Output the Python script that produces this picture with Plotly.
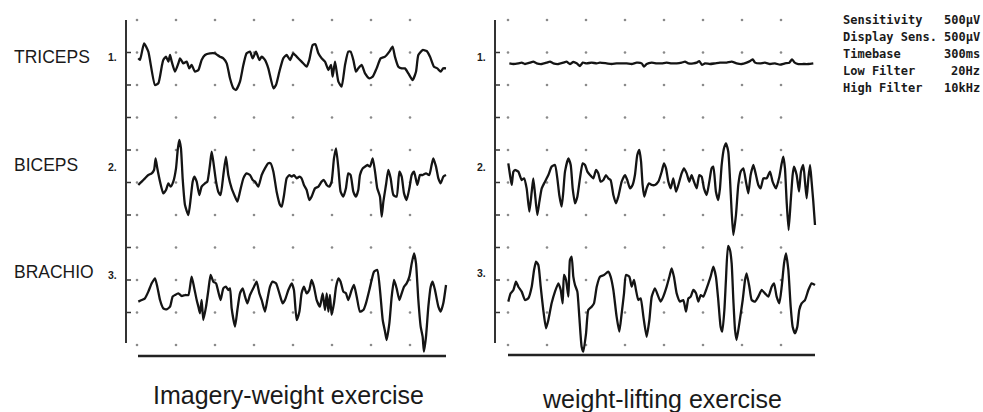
import plotly.graph_objects as go

# ---------------- DATA ----------------
# time in ms, amplitude in µV relative to each channel's baseline
channels = ["TRICEPS", "BICEPS", "BRACHIO"]
channel_numbers = ["1.", "2.", "3."]
conditions = ["Imagery-weight exercise", "weight-lifting exercise"]
setting_names = ["Sensitivity", "Display Sens.", "Timebase", "Low Filter", "High Filter"]
setting_values = ["500µV", "500µV", "300ms", "20Hz", "10kHz"]

# Imagery-weight exercise
tri_img_t = [64, 77, 108, 141, 192, 218, 244, 256, 277, 295, 308, 321, 346, 372, 385, 410, 436, 456, 474, 500,
             526, 551, 577, 615, 654, 672, 692, 718, 744, 769, 795, 815, 846, 872, 897, 923, 944, 969, 995, 1013,
             1038, 1064, 1103, 1123, 1149, 1179, 1205, 1231, 1256, 1282, 1320, 1359, 1379, 1405, 1426, 1449, 1474,
             1500, 1526, 1546, 1559, 1577, 1603, 1628, 1654, 1679, 1697, 1718, 1738, 1756, 1782, 1808, 1841, 1867,
             1897, 1928, 1962, 1995, 2020, 2038, 2064, 2090, 2115, 2141, 2174, 2200, 2218, 2251, 2282, 2308, 2338,
             2364, 2390, 2410, 2431]
tri_img_v = [110, 85, 341, 213, -300, -274, -18, 85, 136, 59, 162, 59, -95, 33, 110, 33, 59, -44, 8, -95,
             -69, 85, 162, 187, 187, 162, 136, 110, 33, -197, -351, -377, -249, 8, 187, 213, 110, 213, 85, 136,
             85, -44, -351, -300, -95, 110, 162, 85, 187, 136, 59, -18, 85, 315, 326, 187, 110, 59, -69, 8,
             -172, 59, -249, -326, 8, 213, 213, 85, -95, -44, 8, -121, -197, -172, -44, 110, 136, 213, 290, 136,
             -18, -44, -44, -121, -223, -95, 162, 238, 223, 136, -18, -44, -95, -44, -44]

bic_img_t = [64, 90, 115, 141, 167, 185, 197, 210, 231, 256, 277, 295, 313, 333, 354, 367, 379, 392, 405, 423,
             449, 467, 482, 495, 513, 533, 551, 577, 595, 615, 628, 641, 662, 679, 697, 718, 738, 756, 782, 808,
             826, 846, 872, 897, 923, 944, 962, 987, 1013, 1038, 1064, 1082, 1103, 1128, 1154, 1167, 1185, 1205,
             1226, 1244, 1261, 1282, 1303, 1320, 1338, 1359, 1379, 1397, 1423, 1449, 1474, 1492, 1513, 1533, 1551,
             1569, 1585, 1603, 1620, 1641, 1661, 1679, 1697, 1718, 1738, 1756, 1769, 1790, 1808, 1826, 1846, 1867,
             1885, 1902, 1923, 1936, 1949, 1969, 1987, 2005, 2026, 2051, 2072, 2090, 2108, 2128, 2149, 2167, 2185,
             2210, 2231, 2251, 2277, 2302, 2320, 2333, 2354, 2372, 2390, 2410, 2431]
bic_img_v = [-88, -37, 14, 65, 91, 142, 322, 168, -37, -217, -165, -63, -114, -37, 168, 450, 604, 476, 14, -396,
             -550, -294, -37, 40, -37, -242, -114, -63, -37, 219, 424, 270, -37, -191, -242, 65, 347, 65, -140, -268,
             -345, -191, 14, 91, 65, -12, -37, -114, 65, 168, 245, 245, 117, -191, -396, -422, -242, 14, 65, 40,
             65, 14, 40, 14, -88, -165, -319, -268, -140, -114, -37, -12, -88, -114, -37, 322, 476, 168, -191, -268,
             -140, 91, 65, -191, -268, -165, 65, 168, 194, 219, 194, 322, 117, -140, -268, -576, -345, -88, 142, 14,
             -242, -268, 117, 40, -217, -319, -140, 65, 117, -88, 65, 65, 91, 65, 219, 322, 194, 14, -63, 40, 65]

bra_img_t = [64, 90, 115, 141, 167, 192, 210, 231, 256, 282, 308, 328, 346, 372, 397, 423, 449, 474, 492, 513,
             526, 538, 551, 564, 585, 603, 620, 641, 662, 679, 697, 718, 738, 756, 769, 782, 808, 826, 846, 867,
             885, 903, 923, 954, 974, 995, 1013, 1038, 1056, 1077, 1097, 1123, 1149, 1174, 1192, 1218, 1244, 1261,
             1282, 1303, 1320, 1338, 1359, 1379, 1397, 1415, 1436, 1461, 1482, 1500, 1513, 1526, 1538, 1551, 1569,
             1585, 1603, 1620, 1641, 1661, 1679, 1705, 1723, 1744, 1769, 1795, 1815, 1841, 1859, 1877, 1902, 1923,
             1944, 1962, 1974, 1995, 2013, 2031, 2051, 2072, 2090, 2108, 2128, 2149, 2167, 2185, 2200, 2218, 2236,
             2251, 2261, 2277, 2295, 2313, 2328, 2346, 2372, 2390, 2410, 2431]
bra_img_v = [-133, -108, -82, 21, 149, 226, 97, -108, -236, -251, -210, -56, -31, -5, -46, -31, -31, 251, 97, -108,
             -210, -313, -108, -415, -210, 46, 277, 174, 149, 21, -108, 72, 97, 46, 72, -236, -518, -262, -5, 72,
             -56, -159, -31, 97, 174, -5, -108, -287, -108, 97, 174, 149, -5, -159, -108, 46, 149, 46, -415, -287,
             -5, 97, -5, 46, 200, 97, -108, -210, -5, -262, -5, -287, -31, -338, -159, 97, 226, 174, 21, -5,
             -108, 46, 123, -56, -287, -262, -159, 46, 200, 328, 354, 46, -415, -595, -723, -467, -56, 200, 72, -108,
             -5, 97, 149, 251, 456, 610, 456, -108, -518, -672, -903, -672, -210, 97, 174, 46, -210, -287, -159, 123]

# weight-lifting exercise
tri_lift_t = [72, 103, 141, 167, 192, 231, 256, 282, 321, 359, 385, 410, 449, 487, 513, 538, 564, 590, 615, 636,
              667, 705, 744, 769, 820, 859, 897, 936, 974, 1013, 1051, 1090, 1108, 1128, 1167, 1205, 1244, 1282,
              1320, 1359, 1397, 1423, 1449, 1487, 1513, 1533, 1554, 1577, 1615, 1654, 1692, 1744, 1782, 1820, 1859,
              1897, 1928, 1944, 1962, 2000, 2038, 2077, 2115, 2154, 2192, 2226, 2246, 2267, 2295, 2333, 2372, 2410]
tri_lift_v = [33, 23, 33, 44, 23, 44, 59, 33, 23, 44, 59, 33, 23, 44, 59, 23, 54, 33, -8, 44,
              33, 44, 33, 44, 33, 23, 33, 33, 33, 23, 44, 33, -18, 23, 44, 33, 33, 44, 33, 33,
              44, 59, 33, 33, 44, 69, 8, 33, 23, 33, 44, 44, 59, 33, 23, 44, 74, 95, 44, 33,
              44, 23, 33, 13, 33, 44, 95, 44, 23, 23, 23, 33]

bic_lift_t = [64, 77, 90, 103, 115, 141, 167, 185, 205, 226, 244, 256, 269, 287, 303, 321, 346, 372, 397, 423,
              441, 456, 474, 487, 500, 526, 544, 559, 577, 595, 615, 636, 654, 672, 692, 718, 738, 756, 774, 795,
              815, 833, 851, 872, 892, 910, 936, 962, 979, 1000, 1020, 1038, 1056, 1072, 1085, 1097, 1110, 1128,
              1146, 1167, 1192, 1218, 1244, 1261, 1277, 1295, 1313, 1333, 1354, 1372, 1397, 1415, 1436, 1456, 1474,
              1492, 1513, 1533, 1551, 1569, 1590, 1610, 1628, 1641, 1661, 1679, 1692, 1705, 1723, 1738, 1756, 1769,
              1782, 1795, 1815, 1833, 1851, 1872, 1892, 1910, 1928, 1949, 1969, 1987, 2005, 2026, 2051, 2077, 2097,
              2123, 2149, 2167, 2179, 2192, 2205, 2220, 2236, 2251, 2261, 2282, 2300, 2315, 2333, 2346, 2359, 2372,
              2385, 2397, 2410, 2423]
bic_lift_v = [245, 65, -88, 117, 142, 117, -12, 14, -140, -499, -191, 14, -217, -550, -345, -140, -37, 65, 194, 219,
              14, -242, -422, -191, 117, 322, 219, -140, -370, -268, 14, 245, 219, 117, 65, 14, 142, 91, -37, -12,
              65, 14, -12, -242, -370, -268, -37, 65, -12, -140, -88, 65, 373, 450, 270, -88, -268, -140, -63, -88,
              -88, -37, 117, 245, 168, -37, -140, 14, -191, -88, 91, 168, 91, -37, 65, -37, -140, 65, 40, -140,
              -242, -37, 168, 194, -191, -319, -140, 219, 476, 553, 424, 14, -499, -858, -550, -88, 117, 168, -37, -217,
              65, 219, 65, -88, -140, 14, 14, 117, -37, -140, 40, 245, 347, 168, -345, -781, -345, 65, 194, 65,
              -191, 117, 219, -37, -294, 14, 219, -37, -345, -704]

bra_lift_t = [64, 82, 103, 123, 141, 167, 192, 218, 244, 262, 277, 295, 313, 333, 354, 372, 397, 423, 449, 467,
              482, 492, 508, 526, 538, 551, 564, 577, 595, 610, 628, 641, 662, 679, 705, 723, 744, 769, 800, 833,
              851, 872, 897, 918, 936, 954, 969, 995, 1013, 1031, 1046, 1064, 1082, 1103, 1128, 1149, 1167, 1192,
              1218, 1236, 1256, 1282, 1303, 1320, 1338, 1359, 1385, 1410, 1431, 1449, 1467, 1487, 1508, 1526, 1544,
              1564, 1585, 1603, 1620, 1641, 1661, 1679, 1697, 1710, 1726, 1738, 1754, 1769, 1782, 1795, 1808, 1820,
              1841, 1867, 1885, 1897, 1918, 1936, 1962, 1987, 2013, 2038, 2064, 2090, 2108, 2128, 2149, 2167, 2185,
              2200, 2218, 2236, 2251, 2269, 2287, 2302, 2320, 2346, 2372, 2397, 2423]
bra_lift_v = [-133, -5, 46, 174, 97, 21, -108, -82, 97, 354, 482, 431, 97, -262, -544, -415, -159, 21, 149, 46,
              -159, 277, 200, -56, 508, 559, 251, 123, 21, -364, -826, -903, -620, -262, -210, -159, 97, 251, 277, 328,
              251, 46, -364, -595, -313, -5, 277, 251, 97, 200, 46, -108, -82, -364, -672, -415, -56, 72, -56, -133,
              -56, 97, 251, 379, 251, -5, -133, -108, -287, -82, -56, 46, -5, -133, -31, -56, 46, 149, 251, 405,
              251, -108, -518, -595, -262, 200, 723, 662, 456, -108, -569, -723, -467, -108, 200, 303, 97, -108, -133, -56,
              46, -5, -56, 97, 149, -56, -159, 97, 456, 610, 354, -210, -518, -620, -518, -262, -159, -108, 46, 149,
              123]

series = {
    0: [(tri_img_t, tri_img_v), (bic_img_t, bic_img_v), (bra_img_t, bra_img_v)],
    1: [(tri_lift_t, tri_lift_v), (bic_lift_t, bic_lift_v), (bra_lift_t, bra_lift_v)],
}

# ---------------- GEOMETRY / STYLE ----------------
PAGE_W, PAGE_H = 983, 412
OFF = 0                          # body margin removed by post_script below
W, H = PAGE_W - OFF, PAGE_H - OFF
MS_PER_DIV, UV_PER_DIV = 300, 500
DIV_W, DIV_H = 39, 32.5
MS_PER_PX = MS_PER_DIV / DIV_W
UV_PER_PX = UV_PER_DIV / DIV_H
ROW0 = 20                        # page pixel row of the top grid line
ORIGIN = [130, 500]              # page pixel x of t = 0 in each panel
BASELINE_DIV = [1.4, 4.9, 8.4]   # channel baselines in divisions below top
AXES = ["x", "x2"]
SPLIT = 480                      # page pixel x where the two panels meet


def xd(px, panel):
    return (px - ORIGIN[panel]) * MS_PER_PX


def yd(py):
    return -(py - ROW0) * UV_PER_PX


fig = go.Figure()

# grid dots
for p, col0 in enumerate([137, 508]):
    gx, gy = [], []
    for k in range(8):
        for r in range(11):
            gx.append(xd(col0, p) + k * MS_PER_DIV)
            gy.append(-r * UV_PER_DIV)
    fig.add_trace(go.Scatter(x=gx, y=gy, mode="markers", xaxis=AXES[p], yaxis="y",
                             marker=dict(size=2.6, color="#8a8a8a"), hoverinfo="skip", showlegend=False))

# traces
for p in (0, 1):
    for ch, (t, v) in enumerate(series[p]):
        base = -BASELINE_DIV[ch] * UV_PER_DIV
        fig.add_trace(go.Scatter(
            x=t, y=[base + a for a in v], mode="lines", xaxis=AXES[p], yaxis="y",
            line=dict(color="#141414", width=2.3, shape="spline", smoothing=0.5),
            hoverinfo="skip", showlegend=False))

shapes = []
for p, (axis_px, bot_px, bx0, bx1) in enumerate([(126, 356, 138, 446), (495, 355, 508, 815)]):
    xr = AXES[p]
    ax_t = xd(axis_px, p)
    shapes.append(dict(type="line", xref=xr, yref="y", x0=ax_t, x1=ax_t, y0=yd(20), y1=yd(343),
                       line=dict(color="#333", width=2)))
    for r in range(1, 10):
        shapes.append(dict(type="line", xref=xr, yref="y", x0=ax_t, x1=xd(axis_px + 5, p),
                           y0=-r * UV_PER_DIV, y1=-r * UV_PER_DIV, line=dict(color="#333", width=1.5)))
    shapes.append(dict(type="line", xref=xr, yref="y", x0=xd(bx0, p), x1=xd(bx1, p),
                       y0=yd(bot_px), y1=yd(bot_px), line=dict(color="#222", width=2.5)))

ann = []


def A(text, x, y, size, xanchor="left", family="Liberation Sans, Arial", color="#1a1a1a"):
    ann.append(dict(text=text, x=(x - OFF) / W, y=1 - (y - OFF) / H, xref="paper", yref="paper",
                    showarrow=False, xanchor=xanchor, yanchor="middle",
                    font=dict(size=size, family=family, color=color)))


for ch, name in enumerate(channels):
    A(name, 12, [57, 165, 272][ch], 17.5)
    A("<b>" + channel_numbers[ch] + "</b>", 106, [57, 167, 275][ch], 10.5)
    A("<b>" + channel_numbers[ch] + "</b>", 475, [57, 167, 273][ch], 10.5)

A(conditions[0], 288, 395, 25, xanchor="center")
A(conditions[1], 662, 399, 25, xanchor="center")

for i, (n, v) in enumerate(zip(setting_names, setting_values)):
    yy = 20 + i * 17
    A("<b>" + n + "</b>", 841, yy, 12, family="DejaVu Sans Mono")
    A("<b>" + v + "</b>", 982, yy, 12, xanchor="right", family="DejaVu Sans Mono")

fig.update_layout(
    width=W, height=H, margin=dict(l=0, r=0, t=0, b=0, pad=0),
    paper_bgcolor="white", plot_bgcolor="white", showlegend=False,
    xaxis=dict(domain=[0, (SPLIT - OFF) / W], range=[xd(OFF, 0), xd(SPLIT, 0)],
               visible=False, fixedrange=True),
    xaxis2=dict(domain=[(SPLIT - OFF) / W, 1], range=[xd(SPLIT, 1), xd(PAGE_W, 1)],
                visible=False, anchor="y", fixedrange=True),
    yaxis=dict(range=[yd(PAGE_H), yd(OFF)], visible=False, fixedrange=True),
    shapes=shapes, annotations=ann,
)

fig.write_html("out.html", config={"displayModeBar": False, "staticPlot": True},
               post_script="document.body.style.margin='0';document.body.style.overflow='hidden';")
